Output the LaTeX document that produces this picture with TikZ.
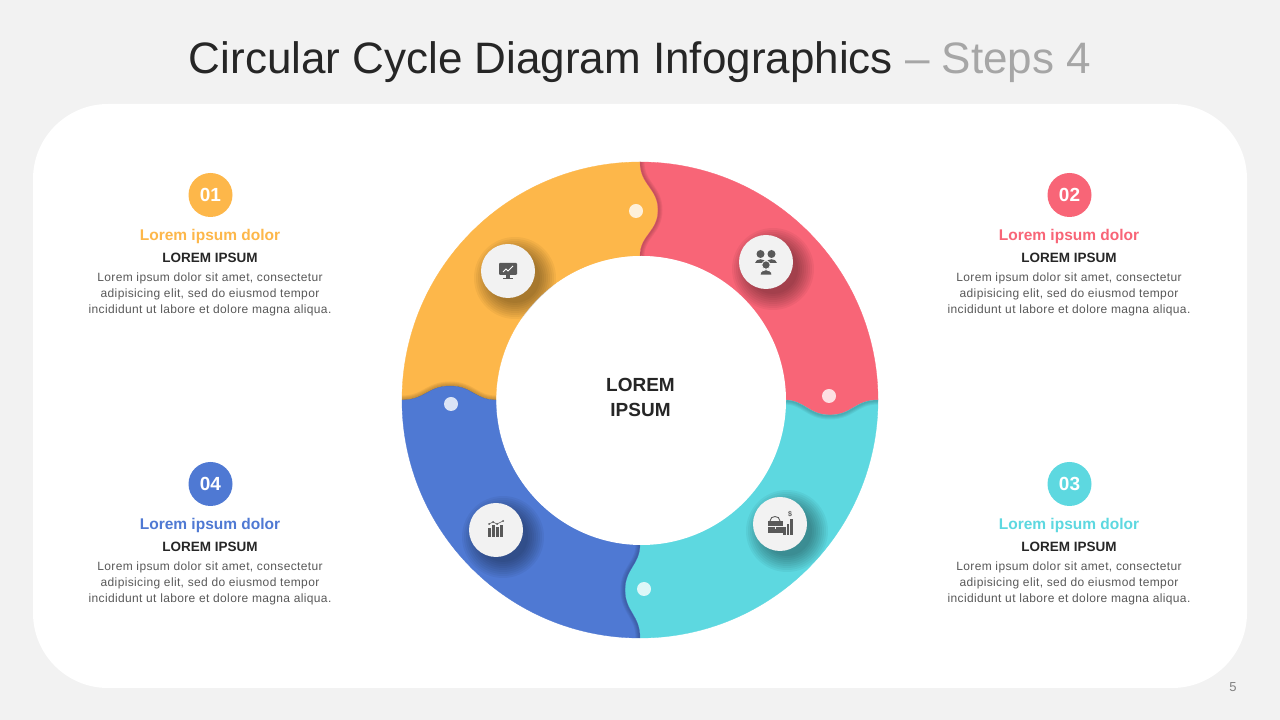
\documentclass[tikz,border=0pt]{standalone}
\usepackage{fontspec}
\setmainfont{Liberation Sans}
\newfontfamily\bodyfont[LetterSpace=3]{Liberation Sans}
\usetikzlibrary{positioning}
\definecolor{pagebg}{HTML}{F2F2F2}
\definecolor{stepa}{HTML}{FDB74A}
\definecolor{stepb}{HTML}{F86577}
\definecolor{stepc}{HTML}{5DD8E0}
\definecolor{stepd}{HTML}{4F79D3}
\definecolor{textmain}{HTML}{262626}
\definecolor{textsoft}{HTML}{595959}
\definecolor{icongrey}{HTML}{595959}
% one ring piece, upright: bump on its right edge, notch on its left edge
\newcommand{\ringpiece}[2]{(180:238) arc[start angle=180, end angle=90, radius=238]
  .. controls (0,215) and (#1,212) .. (#1,190) .. controls (#1,168) and (0,165) .. (0,144)
  arc[start angle=90, end angle=180, radius=144]
  .. controls (-165,0) and (-168,#2) .. (-190,#2) .. controls (-212,#2) and (-215,0) .. (-238,0) -- cycle}
\newcommand{\ringwave}[1]{(0,238) .. controls (0,215) and (#1,212) .. (#1,190) .. controls (#1,168) and (0,165) .. (0,144)}
\begin{document}
\begin{tikzpicture}[
    x=1pt, y=1pt,
    badge/.style={circle, minimum size=44pt, inner sep=0pt, text=white, font=\fontsize{19}{19}\selectfont\bfseries},
    headline/.style={font=\fontsize{15.5}{16}\selectfont\bfseries, inner sep=0pt},
    subline/.style={font=\fontsize{13.5}{14}\selectfont\bfseries, text=textmain, inner sep=0pt},
    bodytext/.style={font=\bodyfont\fontsize{12}{16}\selectfont, text=textsoft, align=center, inner sep=0pt},
    iconbase/.style={circle, minimum size=54pt, inner sep=0pt, fill=pagebg}
  ]
  \useasboundingbox (0,0) rectangle (1280,720);
  \fill[pagebg] (0,0) rectangle (1280,720);
  \fill[white, rounded corners=75pt] (33,32) rectangle (1247,616);

  \node[inner sep=0pt, font=\fontsize{44}{46}\selectfont] (title) at (640,658)
    {\textcolor{textmain}{Circular Cycle Diagram Infographics} \textcolor{black!35}{– Steps 4}};
  \node[inner sep=0pt, text=black!50, font=\fontsize{13}{14}\selectfont] (pageno) at (1233,33) {5};

  % ring pieces
  \foreach \ang/\col/\amp/\nt in {0/stepa/18/14, -90/stepb/15/18, -180/stepc/15/15, -270/stepd/14/15} {
    \begin{scope}[shift={(640,320)}, rotate=\ang]
      \path[fill=\col, draw=\col, line width=.3pt] \ringpiece{\amp}{\nt};
      \fill[white, opacity=.8] (-4,189) circle[radius=7];
    \end{scope}
  }
  % soft edge thrown by each bump on the next piece
  \foreach \ang/\amp in {0/18, -90/15, -180/15, -270/14} {
    \begin{scope}[shift={(640,320)}, rotate=\ang]
      \clip[rotate=-90] \ringpiece{15}{\amp};
      \foreach \w in {9, 7, 5, 3}
        \draw[black, opacity=.05, line width=\w pt] \ringwave{\amp};
    \end{scope}
  }

  % icon discs, shadow first
  \foreach \cx/\cy in {508/449, 766/458, 780/196, 496/190}
    \foreach \r in {41, 39, ..., 25}
      \fill[black, opacity=.045] (\cx+7,\cy-7) circle[radius=\r];
  \node[iconbase] (monitor) at (508,449) {};
  \node[iconbase] (people) at (766,458) {};
  \node[iconbase] (toolbox) at (780,196) {};
  \node[iconbase] (barchart) at (496,190) {};

  % centre
  \node[circle, fill=white, minimum size=289pt, inner sep=0pt] (hub) at (641.5,319.5) {};
  \node[align=center, text=textmain, inner sep=0pt,
    font=\fontsize{19}{25}\selectfont\bfseries] (hubtext) at (640.5,322.5) {LOREM\\IPSUM};

  % monitor icon
  \begin{scope}[shift={(monitor.center)}]
    \fill[icongrey, rounded corners=1pt] (-9,8) rectangle (9,-4);
    \fill[icongrey] (-2,-4) rectangle (2,-7);
    \fill[icongrey] (-5,-7) rectangle (5,-8.5);
    \draw[white, line width=.8pt] (-5,-1) -- (-2,2) -- (0,0) -- (5,5);
  \end{scope}
  % people icon
  \begin{scope}[shift={(people.center)}]
    \fill[icongrey] (-5.5,8) circle[radius=4] (5.5,8) circle[radius=4];
    \fill[icongrey] (-11,-1) .. controls (-10,4) and (-1,4) .. (0,-1) -- cycle;
    \fill[icongrey] (0,-1) .. controls (1,4) and (10,4) .. (11,-1) -- cycle;
    \fill[icongrey, draw=pagebg, line width=.8pt] (0,-3) circle[radius=4.2];
    \fill[icongrey, draw=pagebg, line width=.8pt] (-6,-13) .. controls (-6,-6) and (6,-6) .. (6,-13) -- cycle;
  \end{scope}
  % toolbox icon
  \begin{scope}[shift={(toolbox.center)}]
    \draw[icongrey, line width=.9pt] (-10,3) .. controls (-10,9) and (0,9) .. (0,3);
    \fill[icongrey] (-12,3) rectangle (3,-9);
    \draw[pagebg, line width=.7pt] (-12,-2) -- (3,-2) (-5,-2) -- (-5,-5);
    \fill[icongrey] (3,-11) rectangle (6,-3);
    \fill[icongrey] (6.5,-11) rectangle (9,0);
    \fill[icongrey] (9.5,-11) rectangle (12.5,5);
    \node[inner sep=0pt, text=icongrey, font=\fontsize{7}{7}\selectfont\bfseries] (dollar) at (10,10) {\$};
  \end{scope}
  % bar chart icon
  \begin{scope}[shift={(barchart.center)}]
    \foreach \x/\h in {-8/9, -4/12, 0/10, 4/12}
      \fill[icongrey] (\x,-7) rectangle ++(3.4,\h);
    \draw[icongrey, line width=.6pt] (-7,6) -- (-3,8) -- (1,6) -- (7,9);
    \foreach \x/\y in {-7/6, -3/8, 1/6, 7/9}
      \fill[icongrey] (\x,\y) circle[radius=1];
  \end{scope}

  % text blocks
  \foreach \num/\col/\bx/\by in {01/stepa/210/525, 02/stepb/1069/525, 03/stepc/1069/236, 04/stepd/210/236} {
    \node[badge, fill=\col] (badge\num) at (\bx+.5,\by) {\num};
    \node[headline, text=\col] (head\num) at (\bx,\by-41) {Lorem ipsum dolor};
    \node[subline] (sub\num) at (\bx,\by-63) {LOREM IPSUM};
    \node[bodytext, below=10pt of sub\num] (body\num)
      {Lorem ipsum dolor sit amet, consectetur\\adipisicing elit, sed do eiusmod tempor\\incididunt ut labore et dolore magna aliqua.};
  }
\end{tikzpicture}
\end{document}
